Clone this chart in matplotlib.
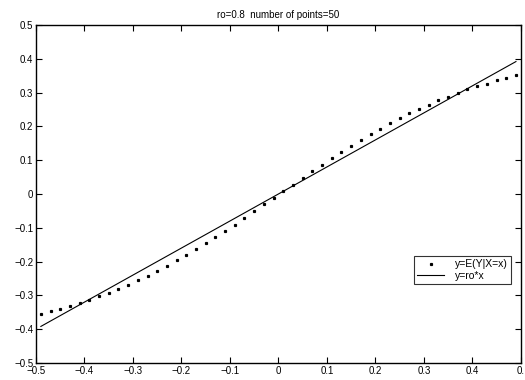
import numpy as np
import matplotlib
matplotlib.use("Agg")
import matplotlib.pyplot as plt

x_points = [-0.49, -0.47, -0.45, -0.43, -0.41, -0.39, -0.37, -0.35, -0.33, -0.31,
            -0.29, -0.27, -0.25, -0.23, -0.21, -0.19, -0.17, -0.15, -0.13, -0.11,
            -0.09, -0.07, -0.05, -0.03, -0.01, 0.01, 0.03, 0.05, 0.07, 0.09,
            0.11, 0.13, 0.15, 0.17, 0.19, 0.21, 0.23, 0.25, 0.27, 0.29,
            0.31, 0.33, 0.35, 0.37, 0.39, 0.41, 0.43, 0.45, 0.47, 0.49]
y_cond = [-0.355, -0.347, -0.340, -0.331, -0.323, -0.314, -0.303, -0.292, -0.281, -0.268,
          -0.255, -0.242, -0.228, -0.213, -0.196, -0.180, -0.164, -0.146, -0.128, -0.109,
          -0.091, -0.071, -0.051, -0.030, -0.011, 0.009, 0.028, 0.048, 0.068, 0.087,
          0.107, 0.125, 0.143, 0.161, 0.178, 0.193, 0.209, 0.224, 0.239, 0.251,
          0.264, 0.277, 0.288, 0.300, 0.310, 0.319, 0.327, 0.336, 0.344, 0.353]
ro = 0.8
x_ticks = [-0.5, -0.4, -0.3, -0.2, -0.1, 0, 0.1, 0.2, 0.3, 0.4, 0.5]
x_labels = ['\u22120.5', '\u22120.4', '\u22120.3', '\u22120.2', '\u22120.1', '0',
            '0.1', '0.2', '0.3', '0.4', '0.']
y_ticks = [-0.5, -0.4, -0.3, -0.2, -0.1, 0, 0.1, 0.2, 0.3, 0.4, 0.5]
y_labels = ['\u22120.5', '\u22120.4', '\u22120.3', '\u22120.2', '\u22120.1', '0',
            '0.1', '0.2', '0.3', '0.4', '0.5']

plt.rcParams['font.family'] = ['Liberation Sans', 'DejaVu Sans']

fig = plt.figure(figsize=(5.25, 3.8), dpi=100)
ax = fig.add_axes([0.0686, 0.045, 0.9234, 0.889])

xs = np.array(x_points)
ax.plot(xs, y_cond, linestyle='none', marker='s', markersize=1.3, color='black',
        label='y=E(Y|X=x)')
ax.plot([xs[0], xs[-1]], [ro * xs[0], ro * xs[-1]], color='black', linewidth=0.8,
        label='y=ro*x')

ax.set_xlim(-0.5, 0.5)
ax.set_ylim(-0.5, 0.5)
ax.set_xticks(x_ticks)
ax.set_xticklabels(x_labels)
ax.set_yticks(y_ticks)
ax.set_yticklabels(y_labels)
ax.tick_params(direction='in', length=4, width=0.8, labelsize=7, top=True, right=True,
               pad=2)
for s in ax.spines.values():
    s.set_linewidth(1.0)

ax.set_title('ro=0.8  number of points=50', fontsize=7, pad=5)

leg = ax.legend(loc='center right', bbox_to_anchor=(0.979, 0.275), fontsize=7.5,
                frameon=True, fancybox=False, edgecolor='black', handlelength=2.6,
                borderpad=0.3, labelspacing=0.1, handletextpad=1.0, borderaxespad=0)
leg.get_frame().set_linewidth(0.8)

fig.savefig('out.png', dpi=100, facecolor='white')
